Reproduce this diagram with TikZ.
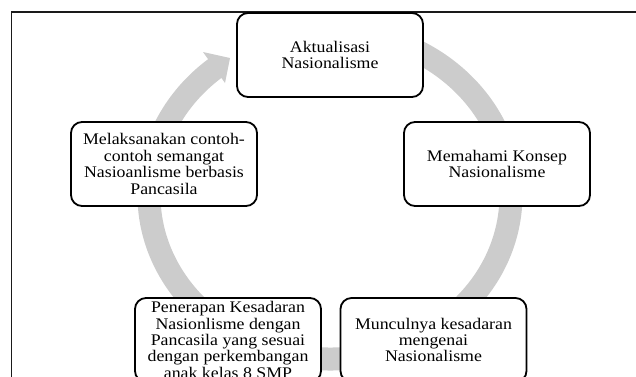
\documentclass[tikz,border=0pt]{standalone}
\usepackage{fontspec}
\setmainfont{Liberation Serif}[FakeStretch=1.1]
\definecolor{ringgray}{HTML}{CCCCCC}
\definecolor{framecol}{HTML}{1A1A1A}
\begin{document}
\begin{tikzpicture}[x=1pt,y=-1pt,
  cyclebox/.style={draw=black, line width=1.8pt, rounded corners=11pt, fill=white,
    minimum width=186pt, minimum height=84pt, inner sep=0pt, align=center,
    font=\fontsize{16.2pt}{16.4pt}\selectfont},
  ringband/.style={draw=ringgray, line width=23pt},
  frameline/.style={draw=framecol, line width=1.3pt}]
\useasboundingbox (0,0) rectangle (636,376);
\clip (0,0) rectangle (636,376);
% outer frame
\draw[frameline] (11.5,12) rectangle (700,440);
% gray cycle ring
\draw[ringband] ([shift={(330,195)}]275:181 and 164) arc[start angle=275, end angle=591, x radius=181, y radius=164];
\fill[ringgray] (203,52) -- (230,58) -- (225,83) -- cycle;
% boxes
\node[cyclebox] (A) at (330,55) {Aktualisasi\\Nasionalisme};
\node[cyclebox] (B) at (497,164) {Memahami Konsep\\Nasionalisme};
\node[cyclebox] (C) at (433.5,340) {Munculnya kesadaran\\mengenai\\Nasionalisme};
\node[cyclebox] (D) at (228,340) {Penerapan Kesadaran\\Nasionlisme dengan\\Pancasila yang sesuai\\dengan perkembangan\\anak kelas 8 SMP};
\node[cyclebox] (E) at (164,164) {Melaksanakan contoh-\\contoh semangat\\Nasioanlisme berbasis\\Pancasila};
\end{tikzpicture}
\end{document}
